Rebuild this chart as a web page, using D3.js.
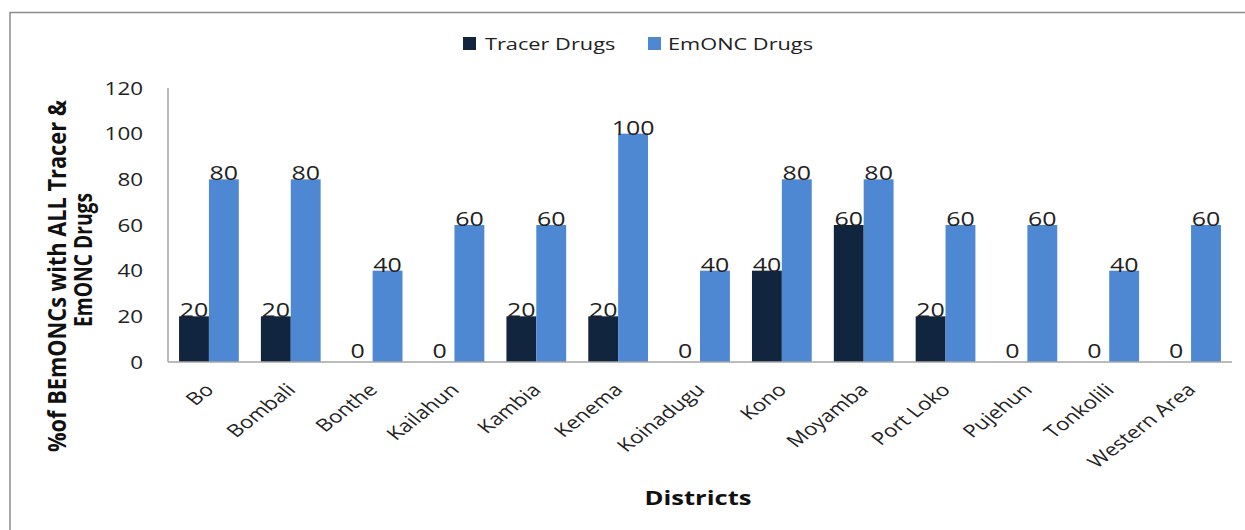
<!DOCTYPE html>
<html><head><meta charset="utf-8">
<script src="https://cdn.jsdelivr.net/npm/d3@7"></script>
<style>body{margin:0;background:#fff}svg{display:block}</style>
</head><body>
<svg id="c" width="1245" height="530"></svg>
<script>
const districts = ["Bo","Bombali","Bonthe","Kailahun","Kambia","Kenema","Koinadugu","Kono","Moyamba","Port Loko","Pujehun","Tonkolili","Western Area"];
const tracerDrugs = [20,20,0,0,20,20,0,40,60,20,0,0,0];
const emoncDrugs = [80,80,40,60,60,100,40,80,80,60,60,40,60];
const seriesNames = ["Tracer Drugs","EmONC Drugs"];
const seriesColors = ["#12253f","#4f88d2"];
const yTicks = [0,20,40,60,80,100,120];

const S = 1.28; // horizontal stretch of the original picture
const svg = d3.select("#c");
svg.append("rect").attr("x",10).attr("y",12.5).attr("width",1300).attr("height",600)
  .attr("fill","#fff").attr("stroke","#8a8a8a").attr("stroke-width",1.5);

function stext(parent, x, y, str, o){
  o = o||{};
  return parent.append("text")
    .attr("transform",`translate(${x},${y}) scale(${S},1)` + (o.rot?` rotate(${o.rot})`:""))
    .attr("text-anchor",o.anchor||"start")
    .attr("font-family",o.family||"Open Sans")
    .attr("font-weight",o.weight||"normal")
    .attr("font-size",o.size||17)
    .attr("fill",o.fill||"#222")
    .text(str);
}

const L=168, R=1232, T=88, B=362;
const x = d3.scaleBand().domain(districts).range([L,R]).paddingInner(0.27).paddingOuter(0.135);
const xs = d3.scaleBand().domain(seriesNames).range([0,x.bandwidth()]);
const y = d3.scaleLinear().domain([0,120]).range([B,T]);

const data = districts.map((d,i)=>({d, vals:[tracerDrugs[i], emoncDrugs[i]]}));

// y tick labels
yTicks.forEach(t=>stext(svg, 143, y(t)+6.5, t, {anchor:"end", size:17.5}));

// bars
const g = svg.append("g");
data.forEach(row=>{
  row.vals.forEach((v,j)=>{
    const bx = x(row.d)+xs(seriesNames[j]);
    g.append("rect").attr("x",bx).attr("y",y(v)).attr("width",xs.bandwidth()).attr("height",B-y(v))
      .attr("fill",seriesColors[j]);
    stext(g, bx+xs.bandwidth()/2, v===0? B-4 : y(v)+1, v, {anchor:"middle", size:19.5});
  });
});

// axis lines
svg.append("line").attr("x1",L).attr("x2",L).attr("y1",T).attr("y2",B).attr("stroke","#a6a6a6").attr("stroke-width",1.5);
svg.append("line").attr("x1",L).attr("x2",R).attr("y1",B).attr("y2",B).attr("stroke","#a6a6a6").attr("stroke-width",1.5);

// x labels
districts.forEach(d=>{
  stext(svg, x(d)+x.bandwidth()/2+6, B+29, d, {anchor:"end", size:17.5, rot:-45});
});

// y title
const titleLines = [{t:"%of BEmONCs with ALL Tracer &", cy:276, bx:66, len:352},{t:"EmONC Drugs", cy:260, bx:92, len:134}];
titleLines.forEach(l=>{
  svg.append("text").attr("transform",`translate(${l.bx},${l.cy}) scale(${S},1) rotate(-90)`)
    .attr("text-anchor","middle").attr("font-family","Open Sans").attr("font-weight","bold")
    .attr("font-size",20).attr("fill","#111")
    .attr("textLength",l.len).attr("lengthAdjust","spacingAndGlyphs")
    .text(l.t);
});

// x title
stext(svg, 698, 505, "Districts", {anchor:"middle", weight:"bold", size:20, fill:"#111"});

// legend
const leg = [{x:463, tx:485},{x:648, tx:668}];
seriesNames.forEach((s,i)=>{
  svg.append("rect").attr("x",leg[i].x).attr("y",37).attr("width",13).attr("height",13).attr("fill",seriesColors[i]);
  stext(svg, leg[i].tx, 50, s, {size:17});
});
</script>
</body></html>
